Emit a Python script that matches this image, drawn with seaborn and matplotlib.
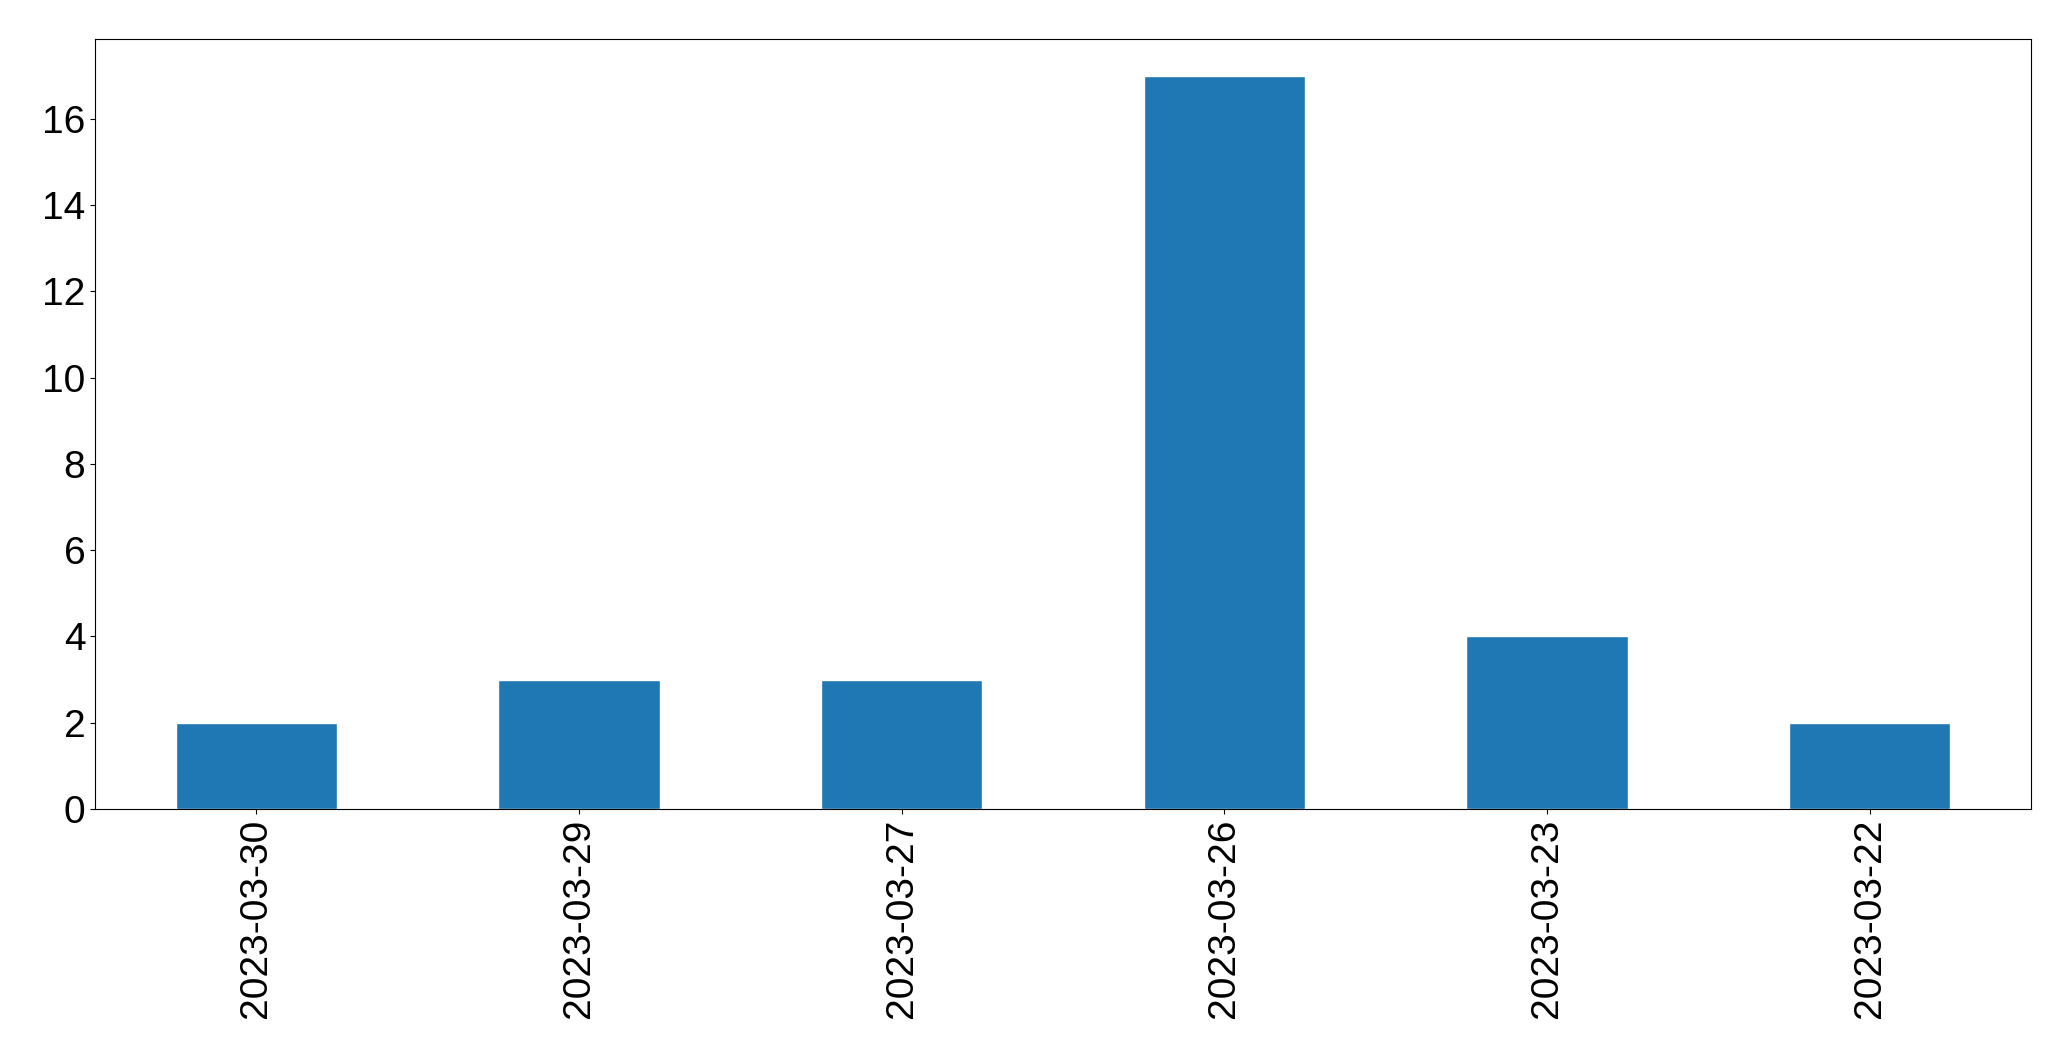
import pandas as pd
import matplotlib.pyplot as plt
import seaborn as sns

dates = ["2023-03-30", "2023-03-29", "2023-03-27", "2023-03-26", "2023-03-23", "2023-03-22"]
counts = [2, 3, 3, 17, 4, 2]

sns.set_style("white")
plt.rcParams["font.family"] = ["Liberation Sans", "DejaVu Sans"]
plt.rcParams["font.size"] = 28

df = pd.DataFrame({"date": dates, "count": counts})

fig, ax = plt.subplots(figsize=(20.71, 10.61), dpi=100)
fig.subplots_adjust(left=95 / 2071, right=2031 / 2071, top=1 - 39 / 1061, bottom=1 - 809 / 1061)
sns.barplot(data=df, x="date", y="count", color="#1f77b4", saturation=1, width=0.5, ax=ax)
ax.set_xlim(-0.5, len(dates) - 0.5)
ax.set_ylim(0, max(counts) * 1.05)
ax.set_xlabel("")
ax.set_ylabel("")
ax.tick_params(axis="both", labelsize=28, labelcolor="black", direction="out",
               length=3.5, width=0.8, bottom=True, left=True, color="black")
plt.setp(ax.get_xticklabels(), rotation=90)
for s in ax.spines.values():
    s.set_color("black")
    s.set_linewidth(0.8)
fig.savefig("out.png")
